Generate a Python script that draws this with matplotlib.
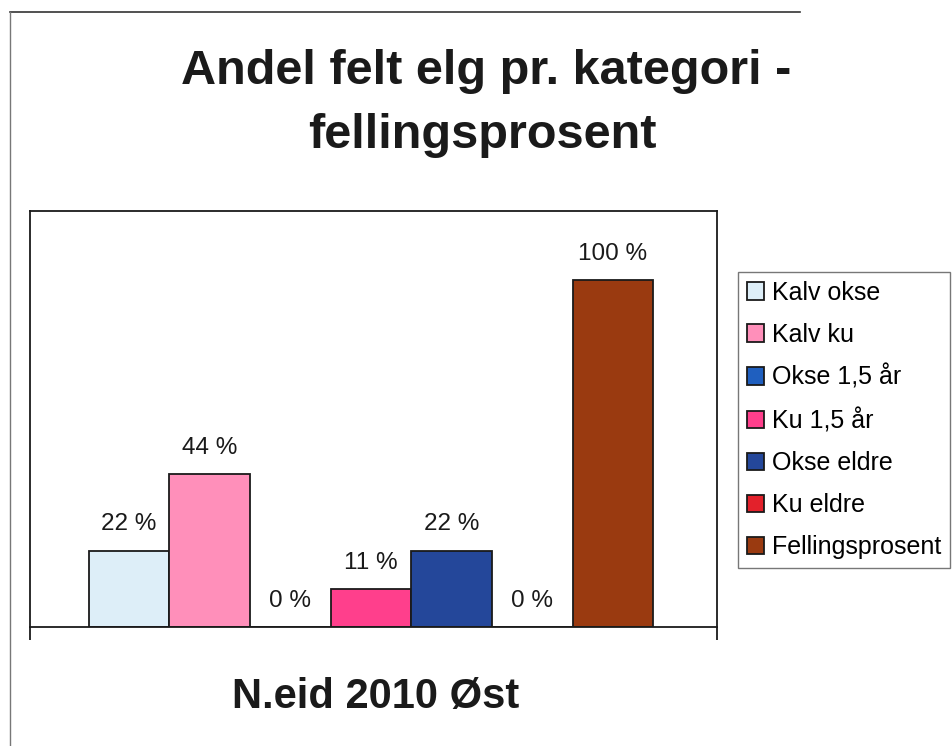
import matplotlib
matplotlib.use("Agg")
import matplotlib.pyplot as plt
from matplotlib.lines import Line2D

plt.rcParams['font.family'] = ['Liberation Sans', 'DejaVu Sans']

# Data
categories = ["Kalv okse", "Kalv ku", "Okse 1,5 år", "Ku 1,5 år",
              "Okse eldre", "Ku eldre", "Fellingsprosent"]
values = [0.22, 0.44, 0.0, 0.11, 0.22, 0.0, 1.00]
value_labels = ["22 %", "44 %", "0 %", "11 %", "22 %", "0 %", "100 %"]
colors = ["#DDEEF8", "#FF8FBA", "#1F5FBF", "#FF3F8C",
          "#24479A", "#E3212B", "#9A3A10"]

W, H = 952, 746
fig = plt.figure(figsize=(W / 100, H / 100), dpi=100)
fig.patch.set_facecolor("white")

# plot area (pixels -> figure fraction)
left, right, top, bottom = 30, 717, 211, 627
ax = fig.add_axes([left / W, 1 - bottom / H, (right - left) / W, (bottom - top) / H])

handles = []
for i, (cat, v, c) in enumerate(zip(categories, values, colors)):
    b = ax.bar(i, v, width=1.0, color=c, edgecolor="#1a1a1a",
               linewidth=1.3, label=cat)
    handles.append(b)
    ax.annotate(value_labels[i], (i, v), xytext=(0, 11),
                textcoords="offset points", ha="center", va="bottom",
                fontsize=17.5, color="#1a1a1a")

ax.set_xlim(-1.23, 7.29)
ax.set_ylim(0, 1.2)
ax.set_yticks([])
ax.set_xticks([-1.23, 7.29])
ax.set_xticklabels([])
ax.tick_params(axis="x", direction="out", length=9, width=1.3, color="#1a1a1a")
for s in ax.spines.values():
    s.set_color("#1a1a1a")
    s.set_linewidth(1.3)

# titles
fig.text(486 / W, 1 - 71 / H, "Andel felt elg pr. kategori -",
         ha="center", va="center", fontsize=35, fontweight="bold", color="#1a1a1a")
fig.text(482 / W, 1 - 136 / H, "fellingsprosent",
         ha="center", va="center", fontsize=35, fontweight="bold", color="#1a1a1a")
fig.text(376 / W, 1 - 697 / H, "N.eid 2010 Øst",
         ha="center", va="center", fontsize=30, fontweight="bold", color="#1a1a1a")

# legend
leg = fig.legend(handles=handles, labels=categories, loc="upper left",
                 bbox_to_anchor=(738 / W, 1 - 272 / H), fontsize=18,
                 frameon=True, fancybox=False, handlelength=0.7,
                 handleheight=0.7, handletextpad=0.32, labelspacing=0.72,
                 borderpad=0.35, borderaxespad=0)
leg.get_frame().set_edgecolor("#555555")
leg.get_frame().set_linewidth(1.0)

# outer chart frame (scanned page border)
fig.add_artist(Line2D([10 / W, 800 / W], [1 - 12 / H, 1 - 12 / H],
                      color="#333333", linewidth=1.2))
fig.add_artist(Line2D([10 / W, 10 / W], [1 - 12 / H, 0], color="#777777",
                      linewidth=1.0))

fig.savefig("out.png", dpi=100, facecolor="white")
